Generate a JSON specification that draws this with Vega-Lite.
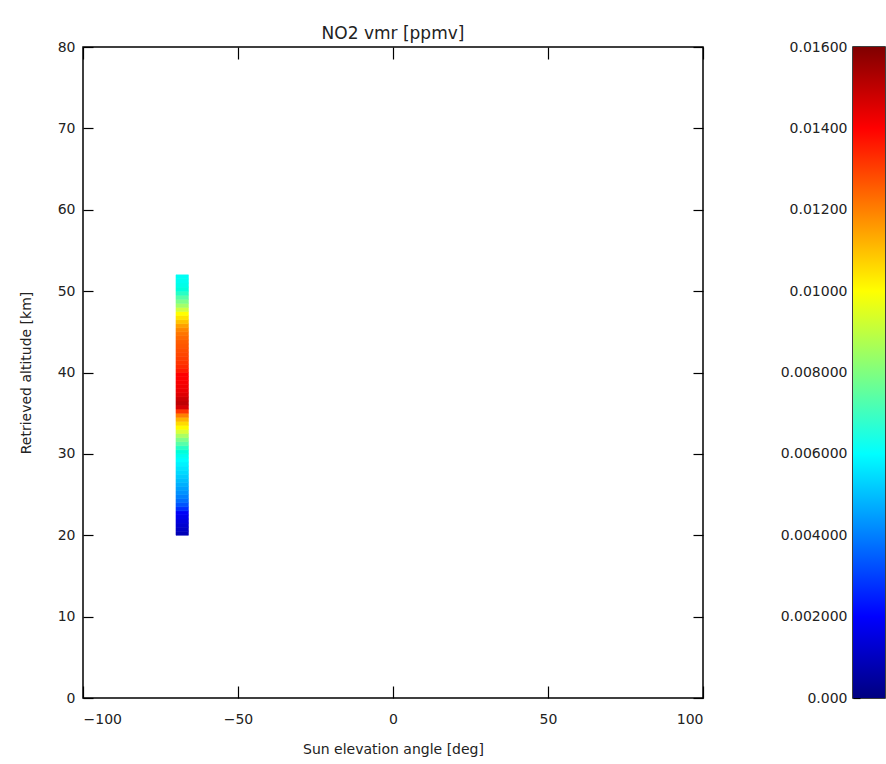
{
  "$schema": "https://vega.github.io/schema/vega-lite/v6.json",
  "background": "white",
  "padding": {"left": 18, "top": 24, "right": 1, "bottom": 5},
  "bounds": "flush",
  "spacing": 150,
  "config": {
    "view": {"stroke": "black", "strokeWidth": 1.5},
    "font": "DejaVu Sans",
    "axis": {
      "labelFont": "DejaVu Sans", "labelFontSize": 14, "labelColor": "#222",
      "titleFont": "DejaVu Sans", "titleFontSize": 14, "titleFontWeight": "normal", "titleColor": "#222",
      "grid": false, "domain": false, "tickColor": "black", "tickWidth": 1.2
    }
  },
  "hconcat": [
    {
      "width": 620,
      "height": 651,
      "title": {"text": "NO2 vmr [ppmv]", "fontSize": 17, "fontWeight": "normal", "font": "DejaVu Sans", "offset": -3, "color": "#222"},
      "data": {"values": [
        {"elev_lo": -70, "elev_hi": -66, "alt_lo": 20.0, "alt_hi": 20.5, "vmr": 0.0009},
        {"elev_lo": -70, "elev_hi": -66, "alt_lo": 20.5, "alt_hi": 21.0, "vmr": 0.0011},
        {"elev_lo": -70, "elev_hi": -66, "alt_lo": 21.0, "alt_hi": 21.5, "vmr": 0.0013},
        {"elev_lo": -70, "elev_hi": -66, "alt_lo": 21.5, "alt_hi": 22.0, "vmr": 0.0015},
        {"elev_lo": -70, "elev_hi": -66, "alt_lo": 22.0, "alt_hi": 22.5, "vmr": 0.0017},
        {"elev_lo": -70, "elev_hi": -66, "alt_lo": 22.5, "alt_hi": 23.0, "vmr": 0.0019},
        {"elev_lo": -70, "elev_hi": -66, "alt_lo": 23.0, "alt_hi": 23.5, "vmr": 0.0022},
        {"elev_lo": -70, "elev_hi": -66, "alt_lo": 23.5, "alt_hi": 24.0, "vmr": 0.0026},
        {"elev_lo": -70, "elev_hi": -66, "alt_lo": 24.0, "alt_hi": 24.5, "vmr": 0.0030},
        {"elev_lo": -70, "elev_hi": -66, "alt_lo": 24.5, "alt_hi": 25.0, "vmr": 0.0033},
        {"elev_lo": -70, "elev_hi": -66, "alt_lo": 25.0, "alt_hi": 25.5, "vmr": 0.0036},
        {"elev_lo": -70, "elev_hi": -66, "alt_lo": 25.5, "alt_hi": 26.0, "vmr": 0.0039},
        {"elev_lo": -70, "elev_hi": -66, "alt_lo": 26.0, "alt_hi": 26.5, "vmr": 0.0042},
        {"elev_lo": -70, "elev_hi": -66, "alt_lo": 26.5, "alt_hi": 27.0, "vmr": 0.0045},
        {"elev_lo": -70, "elev_hi": -66, "alt_lo": 27.0, "alt_hi": 27.5, "vmr": 0.0048},
        {"elev_lo": -70, "elev_hi": -66, "alt_lo": 27.5, "alt_hi": 28.0, "vmr": 0.0051},
        {"elev_lo": -70, "elev_hi": -66, "alt_lo": 28.0, "alt_hi": 28.5, "vmr": 0.0054},
        {"elev_lo": -70, "elev_hi": -66, "alt_lo": 28.5, "alt_hi": 29.0, "vmr": 0.0057},
        {"elev_lo": -70, "elev_hi": -66, "alt_lo": 29.0, "alt_hi": 29.5, "vmr": 0.0060},
        {"elev_lo": -70, "elev_hi": -66, "alt_lo": 29.5, "alt_hi": 30.0, "vmr": 0.0064},
        {"elev_lo": -70, "elev_hi": -66, "alt_lo": 30.0, "alt_hi": 30.5, "vmr": 0.0069},
        {"elev_lo": -70, "elev_hi": -66, "alt_lo": 30.5, "alt_hi": 31.0, "vmr": 0.0073},
        {"elev_lo": -70, "elev_hi": -66, "alt_lo": 31.0, "alt_hi": 31.5, "vmr": 0.0078},
        {"elev_lo": -70, "elev_hi": -66, "alt_lo": 31.5, "alt_hi": 32.0, "vmr": 0.0083},
        {"elev_lo": -70, "elev_hi": -66, "alt_lo": 32.0, "alt_hi": 32.5, "vmr": 0.0089},
        {"elev_lo": -70, "elev_hi": -66, "alt_lo": 32.5, "alt_hi": 33.0, "vmr": 0.0095},
        {"elev_lo": -70, "elev_hi": -66, "alt_lo": 33.0, "alt_hi": 33.5, "vmr": 0.0101},
        {"elev_lo": -70, "elev_hi": -66, "alt_lo": 33.5, "alt_hi": 34.0, "vmr": 0.0108},
        {"elev_lo": -70, "elev_hi": -66, "alt_lo": 34.0, "alt_hi": 34.5, "vmr": 0.0116},
        {"elev_lo": -70, "elev_hi": -66, "alt_lo": 34.5, "alt_hi": 35.0, "vmr": 0.0126},
        {"elev_lo": -70, "elev_hi": -66, "alt_lo": 35.0, "alt_hi": 35.5, "vmr": 0.0137},
        {"elev_lo": -70, "elev_hi": -66, "alt_lo": 35.5, "alt_hi": 36.0, "vmr": 0.0146},
        {"elev_lo": -70, "elev_hi": -66, "alt_lo": 36.0, "alt_hi": 36.5, "vmr": 0.0150},
        {"elev_lo": -70, "elev_hi": -66, "alt_lo": 36.5, "alt_hi": 37.0, "vmr": 0.0148},
        {"elev_lo": -70, "elev_hi": -66, "alt_lo": 37.0, "alt_hi": 37.5, "vmr": 0.0145},
        {"elev_lo": -70, "elev_hi": -66, "alt_lo": 37.5, "alt_hi": 38.0, "vmr": 0.0143},
        {"elev_lo": -70, "elev_hi": -66, "alt_lo": 38.0, "alt_hi": 38.5, "vmr": 0.0142},
        {"elev_lo": -70, "elev_hi": -66, "alt_lo": 38.5, "alt_hi": 39.0, "vmr": 0.0141},
        {"elev_lo": -70, "elev_hi": -66, "alt_lo": 39.0, "alt_hi": 39.5, "vmr": 0.0140},
        {"elev_lo": -70, "elev_hi": -66, "alt_lo": 39.5, "alt_hi": 40.0, "vmr": 0.0140},
        {"elev_lo": -70, "elev_hi": -66, "alt_lo": 40.0, "alt_hi": 40.5, "vmr": 0.0139},
        {"elev_lo": -70, "elev_hi": -66, "alt_lo": 40.5, "alt_hi": 41.0, "vmr": 0.0138},
        {"elev_lo": -70, "elev_hi": -66, "alt_lo": 41.0, "alt_hi": 41.5, "vmr": 0.0137},
        {"elev_lo": -70, "elev_hi": -66, "alt_lo": 41.5, "alt_hi": 42.0, "vmr": 0.0136},
        {"elev_lo": -70, "elev_hi": -66, "alt_lo": 42.0, "alt_hi": 42.5, "vmr": 0.0135},
        {"elev_lo": -70, "elev_hi": -66, "alt_lo": 42.5, "alt_hi": 43.0, "vmr": 0.0134},
        {"elev_lo": -70, "elev_hi": -66, "alt_lo": 43.0, "alt_hi": 43.5, "vmr": 0.0133},
        {"elev_lo": -70, "elev_hi": -66, "alt_lo": 43.5, "alt_hi": 44.0, "vmr": 0.0132},
        {"elev_lo": -70, "elev_hi": -66, "alt_lo": 44.0, "alt_hi": 44.5, "vmr": 0.0130},
        {"elev_lo": -70, "elev_hi": -66, "alt_lo": 44.5, "alt_hi": 45.0, "vmr": 0.0128},
        {"elev_lo": -70, "elev_hi": -66, "alt_lo": 45.0, "alt_hi": 45.5, "vmr": 0.0125},
        {"elev_lo": -70, "elev_hi": -66, "alt_lo": 45.5, "alt_hi": 46.0, "vmr": 0.0120},
        {"elev_lo": -70, "elev_hi": -66, "alt_lo": 46.0, "alt_hi": 46.5, "vmr": 0.0113},
        {"elev_lo": -70, "elev_hi": -66, "alt_lo": 46.5, "alt_hi": 47.0, "vmr": 0.0106},
        {"elev_lo": -70, "elev_hi": -66, "alt_lo": 47.0, "alt_hi": 47.5, "vmr": 0.0100},
        {"elev_lo": -70, "elev_hi": -66, "alt_lo": 47.5, "alt_hi": 48.0, "vmr": 0.0094},
        {"elev_lo": -70, "elev_hi": -66, "alt_lo": 48.0, "alt_hi": 48.5, "vmr": 0.0088},
        {"elev_lo": -70, "elev_hi": -66, "alt_lo": 48.5, "alt_hi": 49.0, "vmr": 0.0083},
        {"elev_lo": -70, "elev_hi": -66, "alt_lo": 49.0, "alt_hi": 49.5, "vmr": 0.0078},
        {"elev_lo": -70, "elev_hi": -66, "alt_lo": 49.5, "alt_hi": 50.0, "vmr": 0.0073},
        {"elev_lo": -70, "elev_hi": -66, "alt_lo": 50.0, "alt_hi": 50.5, "vmr": 0.0069},
        {"elev_lo": -70, "elev_hi": -66, "alt_lo": 50.5, "alt_hi": 51.0, "vmr": 0.0066},
        {"elev_lo": -70, "elev_hi": -66, "alt_lo": 51.0, "alt_hi": 51.5, "vmr": 0.0064},
        {"elev_lo": -70, "elev_hi": -66, "alt_lo": 51.5, "alt_hi": 52.0, "vmr": 0.0063}
      ]},
      "layer": [
        {
          "mark": {"type": "rect", "strokeWidth": 0.6},
          "encoding": {
            "x": {"field": "elev_lo", "type": "quantitative",
                  "scale": {"domain": [-100, 100], "nice": false},
                  "axis": {"orient": "bottom", "values": [-100, -50, 0, 50, 100], "tickSize": -12, "labelPadding": 26, "title": "Sun elevation angle [deg]", "titlePadding": 16}},
            "x2": {"field": "elev_hi"},
            "y": {"field": "alt_lo", "type": "quantitative",
                  "scale": {"domain": [0, 80], "nice": false},
                  "axis": {"orient": "left", "values": [0, 10, 20, 30, 40, 50, 60, 70, 80], "tickSize": -10, "labelPadding": 18, "title": "Retrieved altitude [km]", "titlePadding": 24}},
            "y2": {"field": "alt_hi"},
            "color": {"field": "vmr", "type": "quantitative",
                      "scale": {"domain": [0, 0.002, 0.006, 0.010, 0.014, 0.016], "range": ["#000080", "#0000ff", "#00ffff", "#ffff00", "#ff0000", "#800000"]},
                      "legend": null},
            "stroke": {"field": "vmr", "type": "quantitative",
                      "scale": {"domain": [0, 0.002, 0.006, 0.010, 0.014, 0.016], "range": ["#000080", "#0000ff", "#00ffff", "#ffff00", "#ff0000", "#800000"]},
                      "legend": null}
          }
        },
        {
          "mark": {"type": "rect", "opacity": 0},
          "encoding": {
            "x": {"field": "elev_lo", "type": "quantitative",
                  "axis": {"orient": "top", "values": [-100, -50, 0, 50, 100], "tickSize": -12, "labels": false, "title": null}},
            "x2": {"field": "elev_hi"},
            "y": {"field": "alt_lo", "type": "quantitative",
                  "axis": {"orient": "right", "values": [0, 10, 20, 30, 40, 50, 60, 70, 80], "tickSize": -10, "labels": false, "title": null}},
            "y2": {"field": "alt_hi"}
          }
        }
      ],
      "resolve": {"axis": {"x": "independent", "y": "independent"}}
    },
    {
      "width": 32,
      "height": 651,
      "data": {"values": [{"lo": 0, "hi": 0.016}]},
      "mark": {"type": "rect", "color": {"gradient": "linear", "x1": 0, "y1": 1, "x2": 0, "y2": 0, "stops": [
        {"offset": 0, "color": "#000080"},
        {"offset": 0.125, "color": "#0000ff"},
        {"offset": 0.375, "color": "#00ffff"},
        {"offset": 0.625, "color": "#ffff00"},
        {"offset": 0.875, "color": "#ff0000"},
        {"offset": 1, "color": "#800000"}
      ]}},
      "encoding": {
        "y": {"field": "lo", "type": "quantitative",
              "scale": {"domain": [0, 0.016], "nice": false},
              "axis": {"orient": "left", "title": null, "tickSize": -7, "labelPadding": 13,
                       "values": [0, 0.001, 0.002, 0.003, 0.004, 0.005, 0.006, 0.007, 0.008, 0.009, 0.010, 0.011, 0.012, 0.013, 0.014, 0.015, 0.016],
                       "labelExpr": "abs(datum.value*1000 - round(datum.value*1000)) > 0.01 || round(datum.value*1000) % 2 == 1 ? '' : (datum.value == 0 ? '0.000' : (datum.value < 0.0095 ? format(datum.value, '.6f') : format(datum.value, '.5f')))"}},
        "y2": {"field": "hi"}
      }
    }
  ]
}
